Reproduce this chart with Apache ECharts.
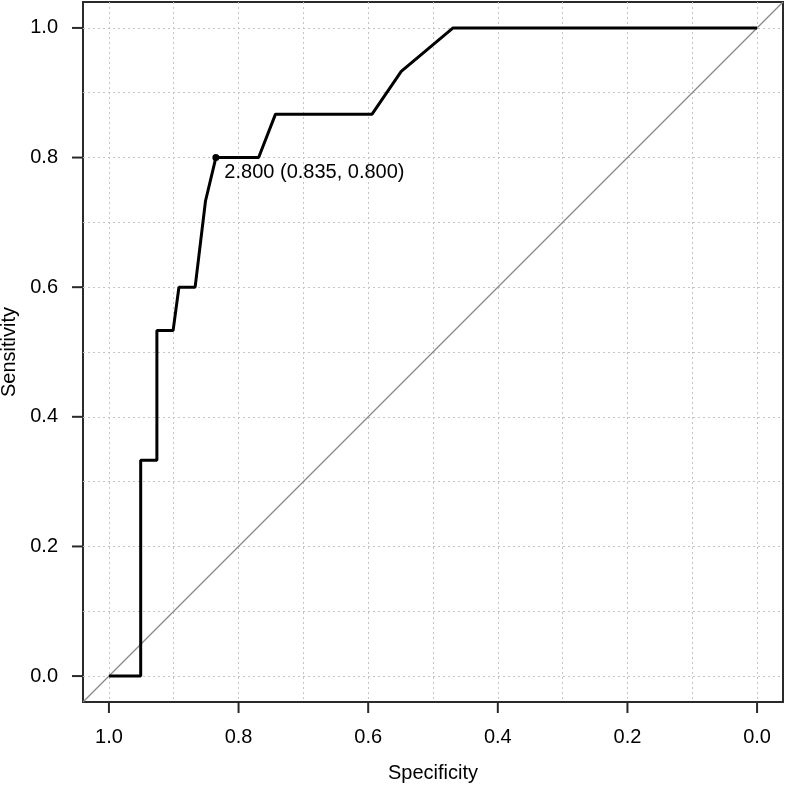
<!DOCTYPE html>
<html>
<head>
<meta charset="utf-8">
<script src="https://cdn.jsdelivr.net/npm/echarts@6/dist/echarts.min.js"></script>
<style>html,body{margin:0;padding:0;background:#fff}#chart{width:786px;height:789px}</style>
</head>
<body>
<div id="chart"></div>
<script>
// ROC curve points (specificity, sensitivity)
const specificity = [1.0, 0.951, 0.951, 0.926, 0.926, 0.901, 0.892, 0.867, 0.851, 0.835, 0.769, 0.743, 0.594, 0.549, 0.469, 0.0];
const sensitivity = [0.0, 0.0, 0.333, 0.333, 0.533, 0.533, 0.600, 0.600, 0.733, 0.800, 0.800, 0.867, 0.867, 0.933, 1.0, 1.0];
// best threshold
const cutoffThreshold = [2.8];
const cutoffSpecificity = [0.835];
const cutoffSensitivity = [0.800];
// reference diagonal (extends across plotting region)
const diagX = [1.04, -0.04];
const diagY = [-0.04, 1.04];
// ticks / grid
const tickValues = [0, 0.2, 0.4, 0.6, 0.8, 1.0];
const tickMin = 0, tickMax = 1, tickStep = 0.2;
const gridValues = [0, 0.1, 0.2, 0.3, 0.4, 0.5, 0.6, 0.7, 0.8, 0.9, 1.0];
const axisMin = -0.04, axisMax = 1.04;

const FONT = '"Liberation Sans", Arial, Helvetica, sans-serif';
const TXT = '#000';
const AX = '#2a2a2a';

// layout of the outer plotting box
const BOX = { left: 83, top: 2, size: 700 };
const PAD = BOX.size * (0 - axisMin) / (axisMax - axisMin);
const TICK_LEN = 11;

const gridLineStyle = { color: '#c4c4c4', width: 1, type: [2, 3] };

function gridAxis(isX) {
  return {
    gridIndex: 0,
    type: 'value', min: axisMin, max: axisMax, inverse: isX,
    position: isX ? 'bottom' : 'left',
    axisLine: { show: false, onZero: false },
    axisTick: { show: false, customValues: gridValues },
    axisLabel: { show: false, customValues: gridValues },
    splitLine: { show: true, lineStyle: gridLineStyle }
  };
}
function labelAxis(isX, name) {
  return {
    gridIndex: 1,
    type: 'value', min: tickMin, max: tickMax, interval: tickStep, inverse: isX,
    position: isX ? 'bottom' : 'left', offset: PAD,
    name: name, nameLocation: 'middle', nameGap: 61,
    nameTextStyle: { fontFamily: FONT, fontSize: 20, color: TXT },
    axisLine: { show: false, onZero: false },
    axisTick: { show: false },
    axisLabel: { show: true, margin: 25, fontFamily: FONT, fontSize: 20, color: TXT,
      formatter: v => v.toFixed(1) },
    splitLine: { show: false }
  };
}

const chart = echarts.init(document.getElementById('chart'), null, { renderer: 'canvas' });
chart.setOption({
  animation: false,
  backgroundColor: '#ffffff',
  grid: [
    { left: BOX.left, top: BOX.top, width: BOX.size, height: BOX.size, containLabel: false, outerBoundsMode: 'none',
      show: true, borderColor: AX, borderWidth: 2, backgroundColor: 'transparent', z: 0 },
    { left: BOX.left + PAD, top: BOX.top + PAD, width: BOX.size - 2 * PAD, height: BOX.size - 2 * PAD,
      containLabel: false, outerBoundsMode: 'none', show: false }
  ],
  xAxis: [gridAxis(true), labelAxis(true, 'Specificity')],
  yAxis: [gridAxis(false), labelAxis(false, 'Sensitivity')],
  series: [
    {
      // x-axis tick marks below the box
      type: 'scatter', xAxisIndex: 0, yAxisIndex: 0, silent: true, clip: false, z: 6,
      symbol: 'rect', symbolSize: [2, TICK_LEN], symbolOffset: [0, TICK_LEN / 2],
      itemStyle: { color: AX, opacity: 1 },
      data: tickValues.map(v => [v, axisMin])
    },
    {
      // y-axis tick marks left of the box
      type: 'scatter', xAxisIndex: 0, yAxisIndex: 0, silent: true, clip: false, z: 6,
      symbol: 'rect', symbolSize: [TICK_LEN, 2], symbolOffset: [-TICK_LEN / 2, 0],
      itemStyle: { color: AX, opacity: 1 },
      data: tickValues.map(v => [axisMax, v])
    },
    {
      type: 'line', xAxisIndex: 0, yAxisIndex: 0, silent: true, symbol: 'none',
      data: diagX.map((x, i) => [x, diagY[i]]),
      lineStyle: { color: '#888', width: 1.2 }, z: 2
    },
    {
      type: 'line', xAxisIndex: 0, yAxisIndex: 0, symbol: 'none',
      data: specificity.map((x, i) => [x, sensitivity[i]]),
      lineStyle: { color: '#000', width: 3 }, z: 3
    },
    {
      type: 'scatter', xAxisIndex: 0, yAxisIndex: 0, symbol: 'circle', symbolSize: 7,
      itemStyle: { color: '#000', opacity: 1 },
      data: cutoffSpecificity.map((x, i) => [x, cutoffSensitivity[i], cutoffThreshold[i]]),
      label: {
        show: true, position: 'right', distance: 5, offset: [0, 15],
        fontFamily: FONT, fontSize: 20, color: TXT,
        formatter: p => p.data[2].toFixed(3) + ' (' + p.data[0].toFixed(3) + ', ' + p.data[1].toFixed(3) + ')'
      },
      z: 4
    }
  ]
});
</script>
</body>
</html>
